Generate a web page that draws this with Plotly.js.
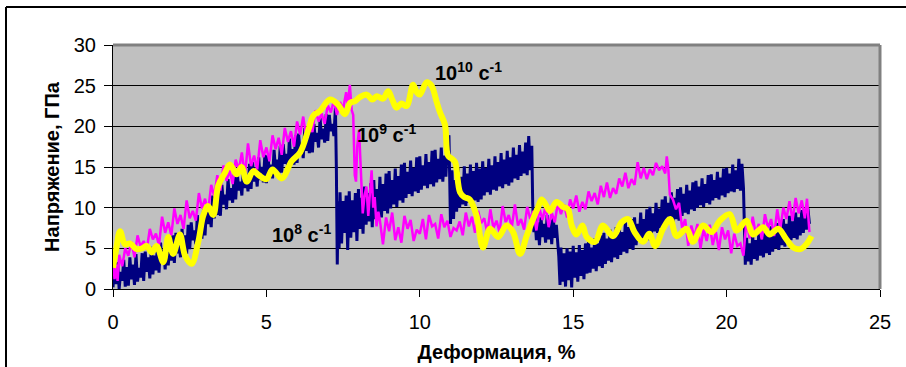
<!DOCTYPE html>
<html>
<head>
<meta charset="utf-8">
<script src="https://cdn.plot.ly/plotly-3.0.1.min.js"></script>
<style>html,body{margin:0;padding:0;background:#fff;}#chart{width:906px;height:367px;}</style>
</head>
<body>
<div id="chart"></div>
<script>
// ---- Data: 10^8 s^-1 (navy) ----
const x8 = [
0.00,0.05,0.10,0.15,0.20,0.25,0.30,0.35,0.40,0.45,0.50,0.55,0.60,0.65,0.70,0.75,0.80,0.85,0.90,0.95,
1.00,1.05,1.10,1.15,1.20,1.25,1.30,1.35,1.40,1.45,1.50,1.55,1.60,1.65,1.70,1.75,1.80,1.85,1.90,1.95,
2.00,2.05,2.10,2.15,2.20,2.25,2.30,2.35,2.40,2.45,2.50,2.55,2.60,2.65,2.70,2.75,2.80,2.85,2.90,2.95,
3.00,3.05,3.10,3.15,3.20,3.25,3.30,3.35,3.40,3.45,3.50,3.55,3.60,3.65,3.70,3.75,3.80,3.85,3.90,3.95,
4.00,4.05,4.10,4.15,4.20,4.25,4.30,4.35,4.40,4.45,4.50,4.55,4.60,4.65,4.70,4.75,4.80,4.85,4.90,4.95,
5.00,5.05,5.10,5.15,5.20,5.25,5.30,5.35,5.40,5.45,5.50,5.55,5.60,5.65,5.70,5.75,5.80,5.85,5.90,5.95,
6.00,6.05,6.10,6.15,6.20,6.25,6.30,6.35,6.40,6.45,6.50,6.55,6.60,6.65,6.70,6.75,6.80,6.85,6.90,6.95,
7.00,7.05,7.10,7.15,7.20,7.25,7.28,7.31,7.34,7.37,
7.40,7.45,7.50,7.55,7.60,7.65,7.70,7.75,7.80,7.85,7.90,7.95,
8.00,8.05,8.10,8.15,8.20,8.25,8.30,8.35,8.40,8.45,8.50,8.55,8.60,8.65,8.70,8.75,8.80,8.85,8.90,8.95,
9.00,9.05,9.10,9.15,9.20,9.25,9.30,9.35,9.40,9.45,9.50,9.55,9.60,9.65,9.70,9.75,9.80,9.85,9.90,9.95,
10.00,10.05,10.10,10.15,10.20,10.25,10.30,10.35,10.40,10.45,10.50,10.55,10.60,10.65,10.70,10.75,10.80,10.85,10.90,10.95,11.00,
11.05,11.10,11.15,11.20,11.25,11.30,11.35,11.40,11.45,11.50,11.55,11.60,11.65,11.70,11.75,11.80,11.85,11.90,11.95,
12.00,12.05,12.10,12.15,12.20,12.25,12.30,12.35,12.40,12.45,12.50,12.55,12.60,12.65,12.70,12.75,12.80,12.85,12.90,12.95,
13.00,13.05,13.10,13.15,13.20,13.25,13.30,13.35,13.40,13.45,13.50,13.55,13.60,13.65,13.68,13.72,
13.75,13.80,13.85,13.90,13.95,14.00,14.05,14.10,14.15,14.20,14.25,14.30,14.35,14.40,14.45,14.50,14.53,14.57,
14.60,14.65,14.70,14.75,14.80,14.85,14.90,14.95,
15.00,15.05,15.10,15.15,15.20,15.25,15.30,15.35,15.40,15.45,15.50,15.55,15.60,15.65,15.70,15.75,15.80,15.85,15.90,15.95,
16.00,16.05,16.10,16.15,16.20,16.25,16.30,16.35,16.40,16.45,16.50,16.55,16.60,16.65,16.70,16.75,16.80,16.85,16.90,16.95,
17.00,17.05,17.10,17.15,17.20,17.25,17.30,17.35,17.40,17.45,17.50,17.55,17.60,17.65,17.70,17.75,17.80,17.85,17.90,17.95,
18.00,18.05,18.10,18.15,18.20,18.25,18.30,18.35,18.40,18.45,18.50,18.55,18.60,18.65,18.70,18.75,18.80,18.85,18.90,18.95,
19.00,19.05,19.10,19.15,19.20,19.25,19.30,19.35,19.40,19.45,19.50,19.55,19.60,19.65,19.70,19.75,19.80,19.85,19.90,19.95,
20.00,20.05,20.10,20.15,20.20,20.25,20.30,20.35,20.40,20.45,20.50,20.55,20.58,20.61,
20.65,20.70,20.75,20.80,20.85,20.90,20.95,
21.00,21.05,21.10,21.15,21.20,21.25,21.30,21.35,21.40,21.45,21.50,21.55,21.60,21.65,21.70,21.75,21.80,21.85,21.90,21.95,
22.00,22.05,22.10,22.15,22.20,22.25,22.30,22.35,22.40,22.45,22.50,22.55,22.60,22.65,22.70];
const y8 = [
0.2,2.8,0.6,3.3,0.0,2.1,1.0,3.6,0.3,2.7, 0.4,3.9,1.2,3.0,0.5,4.3,0.9,2.6,1.4,4.4,
1.0,4.6,2.1,3.9,1.3,5.2,1.8,4.1,2.3,5.4, 2.0,5.7,3.1,4.8,2.4,6.3,2.9,5.2,3.5,6.6,
3.2,6.9,4.4,5.8,3.9,7.4,4.6,6.6,4.3,7.9, 4.9,8.2,6.0,7.2,5.5,9.1,6.4,8.0,6.2,9.8,
6.6,10.3,8.0,9.4,7.6,11.5,8.7,10.4,9.1,12.6, 9.0,12.8,10.4,11.6,9.8,13.5,10.9,12.4,10.6,14.1,
11.0,14.3,12.1,13.2,11.5,15.0,12.4,13.8,12.0,15.4, 12.3,15.6,13.2,14.5,12.6,16.2,13.4,15.0,13.1,16.5,
13.0,16.4,14.2,15.3,13.6,17.1,14.5,15.9,14.1,17.6, 14.3,17.8,15.4,16.6,14.8,18.5,15.7,17.2,15.3,18.9,
15.5,19.1,16.6,17.9,16.1,19.8,17.0,18.6,16.7,20.2, 16.8,20.3,18.1,19.2,17.4,21.0,18.4,19.7,18.0,21.5,
18.2,21.4,19.4,20.3,18.8,22.3,15.0,3.0,10.8,5.0,
11.9,5.6,10.8,6.9,11.5,4.8,12.0,6.3,10.9,7.0,11.8,5.9,
12.3,7.4,11.2,6.8,12.6,7.9,11.8,8.3,13.0,7.6, 13.4,8.6,12.3,9.1,13.8,8.8,12.9,9.6,14.2,9.3,
14.5,9.9,13.4,10.4,14.8,10.1,13.9,10.9,15.3,10.6, 15.5,11.2,14.4,11.7,15.8,11.4,14.9,12.0,16.2,11.8,
16.3,12.2,15.2,12.7,16.6,12.4,15.6,12.9,17.0,12.6, 17.1,13.1,16.0,13.5,17.4,13.2,16.4,13.8,17.9,18.9,8.0,
14.6,8.6,13.4,9.5,14.9,10.0,13.8,10.4,15.1, 10.2,14.2,10.6,15.3,10.4,14.5,10.9,15.5,10.7,14.8,
11.0,15.7,11.5,14.9,11.9,16.0,11.6,15.2,12.2,16.3, 12.1,15.6,12.6,16.7,12.4,15.9,12.9,17.0,12.7,16.2,
13.1,17.4,13.6,16.5,13.4,17.7,13.9,16.9,14.2,18.0, 14.0,18.8,14.6,17.6,10.5,7.0,
9.0,6.0,8.2,5.4,8.8,6.4,8.0,5.7,9.1,6.1,8.5,5.5,8.7,6.3,7.9,5.2,4.0,0.5,
5.1,0.9,4.4,0.3,5.0,1.1,4.6,0.2,
5.3,1.4,4.5,0.9,5.4,1.6,4.8,1.2,5.6,1.9, 5.8,2.0,5.1,2.5,6.2,2.2,5.6,2.8,6.6,2.6,
6.9,3.1,6.2,3.5,7.3,3.3,6.6,3.9,7.6,3.7, 7.8,4.2,7.0,4.6,8.3,4.4,7.6,5.0,8.6,4.8,
8.8,5.4,8.0,5.8,9.4,5.6,8.6,6.2,9.8,6.0, 10.1,6.7,9.3,7.1,10.6,6.9,9.9,7.5,11.0,7.3,
11.4,7.9,10.6,8.3,11.9,8.1,11.2,8.6,12.3,8.4, 12.5,9.0,11.7,9.4,12.8,9.2,12.1,9.8,13.1,9.6,
13.3,10.0,12.6,10.3,13.6,10.1,12.9,10.6,14.0,10.4, 14.1,10.9,13.4,11.2,14.4,11.0,13.7,11.5,14.8,11.3,
14.9,11.8,14.2,12.0,15.3,11.9,14.6,12.3,16.0,12.1,15.4,12.4,8.0,3.0,
6.3,3.4,5.6,3.0,6.5,3.7,6.0,
3.5,6.9,4.1,6.2,3.9,7.3,4.4,6.6,4.2,7.7, 4.6,7.2,5.0,8.1,4.8,7.6,5.4,8.6,5.2,8.0,
5.7,9.0,6.0,8.3,6.3,9.4,6.1,8.8,6.6,9.7, 6.9,9.2,7.3,9.9,8.0];

// ---- Data: 10^9 s^-1 (magenta) ----
const x9 = [0.0,0.05,0.1,0.15,0.2,0.3,0.4,0.5,0.6,0.7,0.8,0.9,1.0,1.1,1.2,1.3,1.4,1.5,1.6,1.7,1.8,1.9,2.0,2.1,2.2,2.3,2.4,2.5,2.6,2.7,2.8,2.9,3.0,3.1,3.2,3.3,3.4,3.5,3.6,3.7,3.8,3.9,4.0,4.1,4.2,4.3,4.4,4.5,4.6,4.7,4.8,4.9,5.0,5.1,5.2,5.3,5.4,5.5,5.6,5.7,5.8,5.9,6.0,6.1,6.2,6.3,6.4,6.5,6.6,6.7,6.8,6.9,7.0,7.1,7.2,7.3,7.4,7.5,7.6,7.65,7.72,7.78,7.83,7.88,7.92,7.96,8.02,8.08,8.14,8.2,8.26,8.32,8.37,8.43,8.48,8.53,8.59,8.65,8.7,8.8,8.9,9.0,9.1,9.2,9.3,9.4,9.5,9.6,9.7,9.8,9.9,10.0,10.1,10.2,10.3,10.4,10.5,10.6,10.7,10.8,10.9,11.0,11.1,11.2,11.3,11.4,11.5,11.6,11.7,11.8,11.9,12.0,12.1,12.2,12.3,12.4,12.5,12.6,12.7,12.8,12.9,13.0,13.1,13.2,13.3,13.4,13.5,13.6,13.7,13.8,13.9,14.0,14.1,14.2,14.3,14.4,14.5,14.6,14.7,14.8,14.9,15.0,15.1,15.2,15.3,15.4,15.5,15.6,15.7,15.8,15.9,16.0,16.1,16.2,16.3,16.4,16.5,16.6,16.7,16.8,16.9,17.0,17.1,17.2,17.3,17.4,17.5,17.6,17.7,17.8,17.9,18.0,18.05,18.1,18.15,18.25,18.35,18.45,18.55,18.65,18.75,18.85,18.95,19.05,19.15,19.25,19.35,19.45,19.55,19.65,19.75,19.85,19.95,20.05,20.15,20.25,20.35,20.45,20.55,20.65,20.75,20.85,20.95,21.05,21.15,21.25,21.35,21.45,21.55,21.65,21.75,21.85,21.95,22.05,22.15,22.25,22.35,22.45,22.55,22.62,22.7];
const y9 = [3.8,1.2,3.0,1.0,4.2,2.8,5.0,4.1,5.8,3.9,6.6,5.2,5.9,4.8,7.4,6.1,6.8,5.4,8.9,6.9,8.2,6.6,9.9,8.0,9.1,7.4,10.9,8.7,9.6,8.4,11.8,9.9,11.1,9.5,12.8,11.4,14.0,12.1,15.2,13.3,14.6,12.9,15.9,14.6,16.8,13.9,17.9,15.1,16.4,14.7,18.3,16.2,17.4,15.7,18.9,17.2,18.6,16.5,19.8,18.1,19.4,17.5,20.6,19.0,21.2,18.6,20.5,19.3,22.0,20.6,21.6,20.3,22.6,21.7,23.2,21.4,23.0,22.1,24.2,22.5,25.1,22.0,21.4,14.0,13.2,17.5,19.6,15.0,9.3,11.5,12.6,9.0,12.0,14.6,10.0,11.3,7.7,9.5,8.4,5.5,8.8,7.1,9.4,6.0,7.6,5.7,9.0,7.4,8.5,5.9,7.3,6.8,8.6,6.1,9.1,7.7,8.0,6.2,9.2,7.6,8.4,6.4,7.5,7.2,8.3,6.6,9.4,7.7,8.9,6.9,9.6,8.1,8.7,6.9,9.8,7.5,8.4,7.0,10.2,8.2,9.1,7.6,10.4,7.8,8.6,7.3,10.1,8.6,9.6,7.2,9.9,8.5,10.2,7.6,9.4,8.2,10.6,9.2,10.4,8.8,11.0,9.9,11.5,9.5,10.7,9.8,12.0,10.8,11.8,10.4,12.7,11.3,13.1,11.2,12.4,11.7,13.6,12.6,14.3,12.4,13.5,12.8,15.6,13.6,14.9,13.5,14.7,14.0,15.5,14.6,15.1,14.2,16.3,14.8,11.6,11.0,9.8,10.6,7.5,8.6,5.3,7.8,6.4,8.0,5.0,7.4,5.9,7.9,5.4,7.0,4.8,7.6,6.1,7.2,4.4,6.8,5.3,5.6,4.1,8.6,6.2,8.9,6.8,8.0,6.1,9.2,7.5,8.6,6.5,9.8,7.4,10.0,8.6,10.8,8.4,11.2,9.3,10.9,8.7,11.1,7.0];

// ---- Data: 10^10 s^-1 (yellow) ----
const x10 = [0.0,0.1,0.23,0.39,0.55,0.77,0.95,1.1,1.26,1.42,1.64,1.8,1.96,2.18,2.35,2.56,2.78,2.94,3.1,3.27,3.43,3.65,3.81,4.03,4.19,4.36,4.57,4.75,5.0,5.2,5.5,5.82,6.1,6.37,6.53,6.75,7.07,7.33,7.56,7.73,7.89,8.05,8.27,8.45,8.6,8.8,8.97,9.1,9.24,9.4,9.57,9.78,9.9,10.0,10.22,10.38,10.55,10.66,10.82,10.92,11.05,11.15,11.31,11.45,11.63,11.85,12.06,12.29,12.55,12.83,13.04,13.27,13.48,13.69,13.85,13.97,14.1,14.24,14.46,14.67,14.83,14.95,15.11,15.3,15.44,15.71,15.97,16.3,16.58,16.79,17.0,17.28,17.48,17.67,17.93,18.16,18.37,18.7,18.9,19.23,19.51,19.78,20.1,20.33,20.65,20.86,21.19,21.4,21.68,21.95,22.17,22.4,22.6,22.77];
const y10 = [2.6,4.8,7.1,5.5,5.6,4.9,5.0,5.3,4.5,5.3,3.3,6.4,4.3,6.7,4.1,3.1,5.8,9.0,10.2,9.1,12.7,14.3,15.3,14.1,15.0,13.2,14.5,14.0,13.5,14.7,13.6,15.7,16.8,19.6,21.3,21.9,23.3,22.7,21.5,22.9,23.1,23.6,23.9,23.3,23.7,23.4,24.3,23.3,22.3,22.8,22.5,25.1,24.2,23.9,25.4,25.0,23.0,21.7,20.2,16.4,16.0,15.6,11.9,11.3,11.0,9.0,5.1,7.4,6.4,7.8,7.0,4.3,6.5,8.6,10.0,11.0,10.4,9.6,10.7,10.1,9.8,7.8,6.7,7.8,6.4,5.8,7.8,6.5,8.2,8.6,7.0,5.8,6.8,5.3,7.4,8.6,6.5,7.4,5.8,7.8,7.0,8.4,9.2,7.2,8.4,6.7,7.6,6.7,7.4,6.1,5.1,4.9,5.5,6.5];

// ---- Labels ----
const xTitle = 'Деформация, %';
const yTitle = 'Напряжение, ГПа';
const seriesLabels = ['10<sup>8</sup> с<sup>-1</sup>', '10<sup>9</sup> с<sup>-1</sup>', '10<sup>10</sup> с<sup>-1</sup>'];
const labelPos = [[6.16, 6.8], [8.93, 19.1], [11.6, 26.7]];

const FONT = 'Liberation Sans, Arial, sans-serif';

const traces = [
  {x: x8, y: y8, type: 'scatter', mode: 'lines', line: {color: '#000080', width: 3}, hoverinfo: 'skip'},
  {x: x9, y: y9, type: 'scatter', mode: 'lines', line: {color: '#FF00FF', width: 2.5}, hoverinfo: 'skip'},
  {x: x10, y: y10, type: 'scatter', mode: 'lines', line: {color: '#FFFF00', width: 6, shape: 'spline', smoothing: 1}, hoverinfo: 'skip'}
];

const annotations = seriesLabels.map((t, i) => ({
  x: labelPos[i][0], y: labelPos[i][1], xref: 'x', yref: 'y', text: '<b>' + t + '</b>',
  showarrow: false, font: {family: FONT, size: 20, color: '#000'}
}));

const W = 906, H = 367, L = 113, R = 26, T = 45, B = 78;
const pw = W - L - R, ph = H - T - B;
const px2x = p => (p - L) / pw;
const py2y = p => (H - B - p) / ph;

const shapes = [
  {type: 'line', xref: 'paper', yref: 'paper', x0: 0, x1: 1, y0: 1, y1: 1, line: {color: '#808080', width: 3}},
  {type: 'line', xref: 'paper', yref: 'paper', x0: 1, x1: 1, y0: 0, y1: 1, line: {color: '#808080', width: 3}},
  {type: 'line', xref: 'paper', yref: 'paper', x0: px2x(6), x1: px2x(910), y0: py2y(7), y1: py2y(7), line: {color: '#000', width: 2}},
  {type: 'line', xref: 'paper', yref: 'paper', x0: px2x(6), x1: px2x(6), y0: py2y(7), y1: py2y(370), line: {color: '#000', width: 2}}
];

const layout = {
  width: W, height: H,
  margin: {l: L, r: R, t: T, b: B, pad: 0},
  paper_bgcolor: '#FFFFFF',
  plot_bgcolor: '#C0C0C0',
  showlegend: false,
  font: {family: FONT, color: '#000'},
  xaxis: {
    range: [0, 25], tick0: 0, dtick: 5, ticks: 'outside', ticklen: 7, tickwidth: 1, tickcolor: '#000',
    ticklabelstandoff: 8,
    showline: true, linecolor: '#000', linewidth: 1, showgrid: false, zeroline: false,
    tickfont: {family: FONT, size: 20, color: '#000'},
    title: {text: xTitle, font: {family: FONT, size: 20, color: '#000', weight: 'bold'}, standoff: 12}
  },
  yaxis: {
    range: [0, 30], tick0: 0, dtick: 5, ticks: 'outside', ticklen: 8, tickwidth: 1, tickcolor: '#000',
    ticklabelstandoff: 4,
    showline: true, linecolor: '#000', linewidth: 1, showgrid: true, gridcolor: '#000', gridwidth: 1, zeroline: false,
    tickfont: {family: FONT, size: 20, color: '#000'},
    title: {text: yTitle, font: {family: FONT, size: 20, color: '#000', weight: 'bold'}, standoff: 8}
  },
  annotations: annotations,
  shapes: shapes
};

Plotly.newPlot('chart', traces, layout, {staticPlot: true, displayModeBar: false});
</script>
</body>
</html>
